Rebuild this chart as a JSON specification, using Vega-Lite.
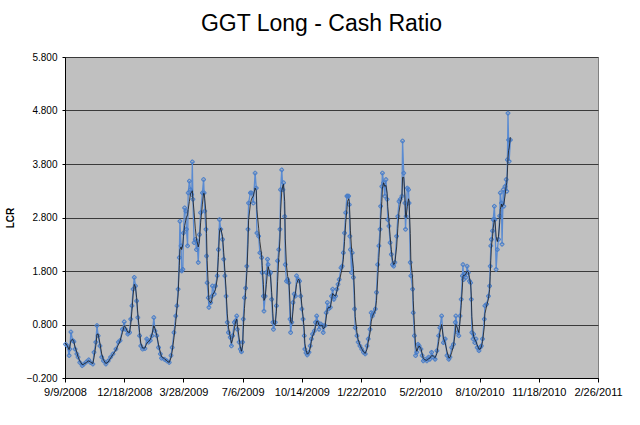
{
  "$schema": "https://vega.github.io/schema/vega-lite/v6.json",
  "autosize": {"type": "none"},
  "width": 533,
  "height": 321,
  "padding": {"left": 65, "top": 57, "right": 42, "bottom": 47},
  "background": "#FFFFFF",
  "config": {
    "view": {"fill": "#C0C0C0", "stroke": "#808080", "strokeWidth": 1},
    "font": "Liberation Sans"
  },
  "title": {
    "text": "GGT Long - Cash Ratio",
    "font": "Liberation Sans",
    "fontSize": 23,
    "fontWeight": "normal",
    "color": "#000000",
    "anchor": "middle",
    "frame": "group",
    "offset": 16,
    "dx": -10
  },
  "data": {
    "values": [
      {"date": "2008-09-10", "lcr": 0.43, "avg": 0.45},
      {"date": "2008-09-13", "lcr": 0.40, "avg": 0.40},
      {"date": "2008-09-16", "lcr": 0.22, "avg": 0.33},
      {"date": "2008-09-17", "lcr": 0.34, "avg": 0.38},
      {"date": "2008-09-19", "lcr": 0.66, "avg": 0.50},
      {"date": "2008-09-22", "lcr": 0.50, "avg": 0.52},
      {"date": "2008-09-24", "lcr": 0.48, "avg": 0.48},
      {"date": "2008-09-26", "lcr": 0.34, "avg": 0.38},
      {"date": "2008-09-29", "lcr": 0.25, "avg": 0.28},
      {"date": "2008-10-01", "lcr": 0.19, "avg": 0.20},
      {"date": "2008-10-04", "lcr": 0.09, "avg": 0.12},
      {"date": "2008-10-08", "lcr": 0.03, "avg": 0.05},
      {"date": "2008-10-11", "lcr": 0.06, "avg": 0.06},
      {"date": "2008-10-15", "lcr": 0.10, "avg": 0.09},
      {"date": "2008-10-19", "lcr": 0.14, "avg": 0.12},
      {"date": "2008-10-22", "lcr": 0.09, "avg": 0.10},
      {"date": "2008-10-26", "lcr": 0.06, "avg": 0.07},
      {"date": "2008-10-28", "lcr": 0.28, "avg": 0.18},
      {"date": "2008-10-31", "lcr": 0.47, "avg": 0.40},
      {"date": "2008-11-02", "lcr": 0.78, "avg": 0.62},
      {"date": "2008-11-04", "lcr": 0.59, "avg": 0.62},
      {"date": "2008-11-07", "lcr": 0.40, "avg": 0.45},
      {"date": "2008-11-10", "lcr": 0.19, "avg": 0.25},
      {"date": "2008-11-13", "lcr": 0.12, "avg": 0.14},
      {"date": "2008-11-17", "lcr": 0.06, "avg": 0.07},
      {"date": "2008-11-21", "lcr": 0.12, "avg": 0.10},
      {"date": "2008-11-25", "lcr": 0.19, "avg": 0.17},
      {"date": "2008-11-29", "lcr": 0.25, "avg": 0.24},
      {"date": "2008-12-04", "lcr": 0.34, "avg": 0.32},
      {"date": "2008-12-08", "lcr": 0.47, "avg": 0.42},
      {"date": "2008-12-11", "lcr": 0.50, "avg": 0.49},
      {"date": "2008-12-15", "lcr": 0.71, "avg": 0.65},
      {"date": "2008-12-18", "lcr": 0.85, "avg": 0.78},
      {"date": "2008-12-20", "lcr": 0.71, "avg": 0.75},
      {"date": "2008-12-24", "lcr": 0.62, "avg": 0.66},
      {"date": "2008-12-27", "lcr": 0.65, "avg": 0.65},
      {"date": "2008-12-29", "lcr": 0.90, "avg": 0.80},
      {"date": "2008-12-31", "lcr": 1.15, "avg": 1.05},
      {"date": "2009-01-02", "lcr": 1.46, "avg": 1.35},
      {"date": "2009-01-04", "lcr": 1.68, "avg": 1.55},
      {"date": "2009-01-06", "lcr": 1.52, "avg": 1.50},
      {"date": "2009-01-08", "lcr": 1.24, "avg": 1.30},
      {"date": "2009-01-10", "lcr": 0.93, "avg": 1.00},
      {"date": "2009-01-13", "lcr": 0.59, "avg": 0.65},
      {"date": "2009-01-15", "lcr": 0.40, "avg": 0.45},
      {"date": "2009-01-18", "lcr": 0.34, "avg": 0.36},
      {"date": "2009-01-22", "lcr": 0.35, "avg": 0.36},
      {"date": "2009-01-25", "lcr": 0.53, "avg": 0.45},
      {"date": "2009-01-28", "lcr": 0.47, "avg": 0.48},
      {"date": "2009-01-31", "lcr": 0.50, "avg": 0.52},
      {"date": "2009-02-03", "lcr": 0.59, "avg": 0.62},
      {"date": "2009-02-06", "lcr": 0.93, "avg": 0.78},
      {"date": "2009-02-08", "lcr": 0.68, "avg": 0.72},
      {"date": "2009-02-11", "lcr": 0.59, "avg": 0.60},
      {"date": "2009-02-14", "lcr": 0.37, "avg": 0.42},
      {"date": "2009-02-17", "lcr": 0.25, "avg": 0.28},
      {"date": "2009-02-19", "lcr": 0.17, "avg": 0.20},
      {"date": "2009-02-24", "lcr": 0.15, "avg": 0.16},
      {"date": "2009-02-28", "lcr": 0.12, "avg": 0.12},
      {"date": "2009-03-04", "lcr": 0.09, "avg": 0.09},
      {"date": "2009-03-07", "lcr": 0.22, "avg": 0.18},
      {"date": "2009-03-09", "lcr": 0.37, "avg": 0.30},
      {"date": "2009-03-12", "lcr": 0.65, "avg": 0.55},
      {"date": "2009-03-15", "lcr": 0.96, "avg": 0.85},
      {"date": "2009-03-17", "lcr": 1.15, "avg": 1.10},
      {"date": "2009-03-19", "lcr": 1.46, "avg": 1.35},
      {"date": "2009-03-21", "lcr": 2.05, "avg": 1.90},
      {"date": "2009-03-22", "lcr": 2.73, "avg": 2.20},
      {"date": "2009-03-24", "lcr": 2.27, "avg": 2.25},
      {"date": "2009-03-25", "lcr": 1.80, "avg": 2.20},
      {"date": "2009-03-27", "lcr": 1.83, "avg": 2.30},
      {"date": "2009-03-28", "lcr": 2.51, "avg": 2.45},
      {"date": "2009-03-30", "lcr": 2.98, "avg": 2.65},
      {"date": "2009-04-01", "lcr": 2.92, "avg": 2.75},
      {"date": "2009-04-02", "lcr": 2.58, "avg": 2.80},
      {"date": "2009-04-04", "lcr": 2.27, "avg": 2.85},
      {"date": "2009-04-05", "lcr": 3.26, "avg": 2.95},
      {"date": "2009-04-07", "lcr": 3.48, "avg": 3.10},
      {"date": "2009-04-09", "lcr": 3.32, "avg": 3.25},
      {"date": "2009-04-11", "lcr": 3.23, "avg": 3.28},
      {"date": "2009-04-12", "lcr": 3.84, "avg": 3.30},
      {"date": "2009-04-13", "lcr": 3.14, "avg": 3.15},
      {"date": "2009-04-15", "lcr": 2.33, "avg": 2.90},
      {"date": "2009-04-17", "lcr": 2.39, "avg": 2.60},
      {"date": "2009-04-19", "lcr": 2.20, "avg": 2.40},
      {"date": "2009-04-20", "lcr": 2.36, "avg": 2.35},
      {"date": "2009-04-22", "lcr": 1.96, "avg": 2.25},
      {"date": "2009-04-24", "lcr": 2.48, "avg": 2.35},
      {"date": "2009-04-26", "lcr": 2.89, "avg": 2.70},
      {"date": "2009-04-29", "lcr": 3.26, "avg": 3.05},
      {"date": "2009-05-01", "lcr": 3.51, "avg": 3.25},
      {"date": "2009-05-02", "lcr": 3.26, "avg": 3.25},
      {"date": "2009-05-03", "lcr": 2.92, "avg": 3.15},
      {"date": "2009-05-05", "lcr": 2.58, "avg": 2.90},
      {"date": "2009-05-06", "lcr": 2.08, "avg": 2.50},
      {"date": "2009-05-07", "lcr": 1.58, "avg": 2.00},
      {"date": "2009-05-09", "lcr": 1.30, "avg": 1.50},
      {"date": "2009-05-10", "lcr": 1.12, "avg": 1.25},
      {"date": "2009-05-13", "lcr": 1.21, "avg": 1.20},
      {"date": "2009-05-15", "lcr": 1.33, "avg": 1.25},
      {"date": "2009-05-16", "lcr": 1.52, "avg": 1.35},
      {"date": "2009-05-19", "lcr": 1.37, "avg": 1.40},
      {"date": "2009-05-21", "lcr": 1.52, "avg": 1.45},
      {"date": "2009-05-24", "lcr": 1.71, "avg": 1.65},
      {"date": "2009-05-26", "lcr": 2.20, "avg": 2.05},
      {"date": "2009-05-28", "lcr": 2.76, "avg": 2.55},
      {"date": "2009-05-30", "lcr": 2.58, "avg": 2.60},
      {"date": "2009-06-02", "lcr": 2.39, "avg": 2.45},
      {"date": "2009-06-04", "lcr": 2.02, "avg": 2.15},
      {"date": "2009-06-06", "lcr": 1.71, "avg": 1.80},
      {"date": "2009-06-08", "lcr": 1.33, "avg": 1.45},
      {"date": "2009-06-10", "lcr": 0.84, "avg": 1.00},
      {"date": "2009-06-12", "lcr": 0.65, "avg": 0.75},
      {"date": "2009-06-15", "lcr": 0.56, "avg": 0.58},
      {"date": "2009-06-17", "lcr": 0.40, "avg": 0.45},
      {"date": "2009-06-19", "lcr": 0.59, "avg": 0.52},
      {"date": "2009-06-22", "lcr": 0.84, "avg": 0.72},
      {"date": "2009-06-24", "lcr": 0.87, "avg": 0.85},
      {"date": "2009-06-26", "lcr": 0.96, "avg": 0.90},
      {"date": "2009-06-27", "lcr": 0.71, "avg": 0.80},
      {"date": "2009-06-30", "lcr": 0.47, "avg": 0.55},
      {"date": "2009-07-02", "lcr": 0.34, "avg": 0.38},
      {"date": "2009-07-04", "lcr": 0.29, "avg": 0.30},
      {"date": "2009-07-06", "lcr": 0.47, "avg": 0.40},
      {"date": "2009-07-07", "lcr": 0.90, "avg": 0.70},
      {"date": "2009-07-09", "lcr": 1.30, "avg": 1.10},
      {"date": "2009-07-11", "lcr": 1.48, "avg": 1.40},
      {"date": "2009-07-13", "lcr": 1.89, "avg": 1.75},
      {"date": "2009-07-15", "lcr": 2.58, "avg": 2.30},
      {"date": "2009-07-16", "lcr": 3.07, "avg": 2.75},
      {"date": "2009-07-19", "lcr": 3.26, "avg": 3.05},
      {"date": "2009-07-21", "lcr": 3.26, "avg": 3.15},
      {"date": "2009-07-24", "lcr": 3.07, "avg": 3.20},
      {"date": "2009-07-27", "lcr": 3.63, "avg": 3.35},
      {"date": "2009-07-29", "lcr": 3.35, "avg": 3.30},
      {"date": "2009-07-30", "lcr": 2.51, "avg": 2.95},
      {"date": "2009-08-02", "lcr": 2.45, "avg": 2.60},
      {"date": "2009-08-04", "lcr": 2.14, "avg": 2.35},
      {"date": "2009-08-07", "lcr": 2.05, "avg": 2.10},
      {"date": "2009-08-08", "lcr": 1.77, "avg": 1.90},
      {"date": "2009-08-10", "lcr": 1.33, "avg": 1.55},
      {"date": "2009-08-11", "lcr": 1.05, "avg": 1.25},
      {"date": "2009-08-13", "lcr": 1.33, "avg": 1.30},
      {"date": "2009-08-15", "lcr": 1.77, "avg": 1.55},
      {"date": "2009-08-17", "lcr": 2.02, "avg": 1.80},
      {"date": "2009-08-18", "lcr": 1.92, "avg": 1.88},
      {"date": "2009-08-20", "lcr": 1.74, "avg": 1.80},
      {"date": "2009-08-22", "lcr": 1.77, "avg": 1.70},
      {"date": "2009-08-24", "lcr": 1.27, "avg": 1.40},
      {"date": "2009-08-26", "lcr": 0.84, "avg": 1.00},
      {"date": "2009-08-27", "lcr": 0.71, "avg": 0.82},
      {"date": "2009-08-30", "lcr": 0.84, "avg": 0.80},
      {"date": "2009-09-01", "lcr": 1.15, "avg": 1.05},
      {"date": "2009-09-03", "lcr": 1.99, "avg": 1.60},
      {"date": "2009-09-05", "lcr": 2.20, "avg": 2.05},
      {"date": "2009-09-07", "lcr": 2.58, "avg": 2.40},
      {"date": "2009-09-08", "lcr": 3.32, "avg": 2.90},
      {"date": "2009-09-10", "lcr": 3.69, "avg": 3.30},
      {"date": "2009-09-12", "lcr": 3.32, "avg": 3.40},
      {"date": "2009-09-13", "lcr": 3.45, "avg": 3.42},
      {"date": "2009-09-15", "lcr": 2.82, "avg": 3.10},
      {"date": "2009-09-16", "lcr": 1.92, "avg": 2.40},
      {"date": "2009-09-18", "lcr": 1.61, "avg": 1.90},
      {"date": "2009-09-20", "lcr": 1.64, "avg": 1.70},
      {"date": "2009-09-22", "lcr": 1.58, "avg": 1.62},
      {"date": "2009-09-24", "lcr": 0.90, "avg": 1.20},
      {"date": "2009-09-25", "lcr": 0.65, "avg": 0.85},
      {"date": "2009-09-27", "lcr": 0.84, "avg": 0.82},
      {"date": "2009-09-29", "lcr": 1.21, "avg": 1.05},
      {"date": "2009-10-01", "lcr": 1.37, "avg": 1.30},
      {"date": "2009-10-03", "lcr": 1.33, "avg": 1.38},
      {"date": "2009-10-05", "lcr": 1.71, "avg": 1.55},
      {"date": "2009-10-08", "lcr": 1.64, "avg": 1.65},
      {"date": "2009-10-10", "lcr": 1.61, "avg": 1.62},
      {"date": "2009-10-12", "lcr": 1.33, "avg": 1.40},
      {"date": "2009-10-14", "lcr": 1.09, "avg": 1.15},
      {"date": "2009-10-16", "lcr": 0.90, "avg": 0.95},
      {"date": "2009-10-18", "lcr": 0.59, "avg": 0.70},
      {"date": "2009-10-19", "lcr": 0.34, "avg": 0.45},
      {"date": "2009-10-21", "lcr": 0.27, "avg": 0.32},
      {"date": "2009-10-23", "lcr": 0.23, "avg": 0.25},
      {"date": "2009-10-26", "lcr": 0.28, "avg": 0.27},
      {"date": "2009-10-28", "lcr": 0.40, "avg": 0.36},
      {"date": "2009-10-30", "lcr": 0.53, "avg": 0.48},
      {"date": "2009-11-01", "lcr": 0.62, "avg": 0.58},
      {"date": "2009-11-04", "lcr": 0.68, "avg": 0.66},
      {"date": "2009-11-06", "lcr": 0.84, "avg": 0.76},
      {"date": "2009-11-08", "lcr": 0.96, "avg": 0.86},
      {"date": "2009-11-10", "lcr": 0.84, "avg": 0.86},
      {"date": "2009-11-12", "lcr": 0.71, "avg": 0.78},
      {"date": "2009-11-15", "lcr": 0.81, "avg": 0.78},
      {"date": "2009-11-18", "lcr": 0.78, "avg": 0.78},
      {"date": "2009-11-19", "lcr": 0.65, "avg": 0.72},
      {"date": "2009-11-22", "lcr": 0.78, "avg": 0.75},
      {"date": "2009-11-24", "lcr": 1.02, "avg": 0.92},
      {"date": "2009-11-26", "lcr": 1.21, "avg": 1.08},
      {"date": "2009-11-28", "lcr": 1.09, "avg": 1.12},
      {"date": "2009-12-01", "lcr": 1.12, "avg": 1.12},
      {"date": "2009-12-03", "lcr": 1.33, "avg": 1.25},
      {"date": "2009-12-05", "lcr": 1.46, "avg": 1.38},
      {"date": "2009-12-07", "lcr": 1.27, "avg": 1.35},
      {"date": "2009-12-10", "lcr": 1.33, "avg": 1.33},
      {"date": "2009-12-12", "lcr": 1.46, "avg": 1.42},
      {"date": "2009-12-14", "lcr": 1.55, "avg": 1.52},
      {"date": "2009-12-16", "lcr": 1.64, "avg": 1.60},
      {"date": "2009-12-19", "lcr": 1.86, "avg": 1.75},
      {"date": "2009-12-21", "lcr": 1.89, "avg": 1.85},
      {"date": "2009-12-23", "lcr": 2.14, "avg": 2.02},
      {"date": "2009-12-25", "lcr": 2.51, "avg": 2.35},
      {"date": "2009-12-27", "lcr": 2.89, "avg": 2.70},
      {"date": "2009-12-29", "lcr": 3.20, "avg": 2.95},
      {"date": "2009-12-30", "lcr": 3.20, "avg": 3.10},
      {"date": "2010-01-01", "lcr": 3.20, "avg": 3.15},
      {"date": "2010-01-02", "lcr": 3.04, "avg": 3.10},
      {"date": "2010-01-03", "lcr": 2.45, "avg": 2.85},
      {"date": "2010-01-04", "lcr": 2.20, "avg": 2.55},
      {"date": "2010-01-06", "lcr": 1.77, "avg": 2.20},
      {"date": "2010-01-07", "lcr": 2.14, "avg": 2.05},
      {"date": "2010-01-09", "lcr": 1.68, "avg": 1.85},
      {"date": "2010-01-11", "lcr": 1.09, "avg": 1.35},
      {"date": "2010-01-12", "lcr": 0.74, "avg": 0.95},
      {"date": "2010-01-15", "lcr": 0.59, "avg": 0.65},
      {"date": "2010-01-17", "lcr": 0.47, "avg": 0.52},
      {"date": "2010-01-20", "lcr": 0.40, "avg": 0.42},
      {"date": "2010-01-23", "lcr": 0.34, "avg": 0.35},
      {"date": "2010-01-26", "lcr": 0.28, "avg": 0.29},
      {"date": "2010-01-29", "lcr": 0.25, "avg": 0.26},
      {"date": "2010-02-01", "lcr": 0.40, "avg": 0.34},
      {"date": "2010-02-03", "lcr": 0.53, "avg": 0.47},
      {"date": "2010-02-06", "lcr": 0.71, "avg": 0.64},
      {"date": "2010-02-08", "lcr": 1.02, "avg": 0.85},
      {"date": "2010-02-10", "lcr": 0.96, "avg": 0.95},
      {"date": "2010-02-12", "lcr": 1.02, "avg": 1.00},
      {"date": "2010-02-15", "lcr": 1.09, "avg": 1.06},
      {"date": "2010-02-17", "lcr": 1.40, "avg": 1.25},
      {"date": "2010-02-19", "lcr": 1.92, "avg": 1.65},
      {"date": "2010-02-21", "lcr": 2.27, "avg": 2.05},
      {"date": "2010-02-23", "lcr": 2.58, "avg": 2.40},
      {"date": "2010-02-24", "lcr": 3.01, "avg": 2.75},
      {"date": "2010-02-26", "lcr": 3.38, "avg": 3.10},
      {"date": "2010-02-27", "lcr": 3.63, "avg": 3.35},
      {"date": "2010-03-01", "lcr": 3.45, "avg": 3.45},
      {"date": "2010-03-03", "lcr": 3.20, "avg": 3.38},
      {"date": "2010-03-05", "lcr": 3.51, "avg": 3.40},
      {"date": "2010-03-07", "lcr": 3.14, "avg": 3.25},
      {"date": "2010-03-08", "lcr": 2.76, "avg": 3.00},
      {"date": "2010-03-10", "lcr": 2.64, "avg": 2.75},
      {"date": "2010-03-12", "lcr": 2.33, "avg": 2.45},
      {"date": "2010-03-14", "lcr": 2.11, "avg": 2.20},
      {"date": "2010-03-16", "lcr": 1.92, "avg": 2.00},
      {"date": "2010-03-18", "lcr": 1.89, "avg": 1.92},
      {"date": "2010-03-20", "lcr": 1.96, "avg": 1.95},
      {"date": "2010-03-23", "lcr": 2.45, "avg": 2.25},
      {"date": "2010-03-25", "lcr": 2.82, "avg": 2.60},
      {"date": "2010-03-27", "lcr": 3.10, "avg": 2.90},
      {"date": "2010-03-29", "lcr": 3.14, "avg": 3.05},
      {"date": "2010-04-01", "lcr": 3.20, "avg": 3.20},
      {"date": "2010-04-02", "lcr": 4.23, "avg": 3.55},
      {"date": "2010-04-04", "lcr": 3.63, "avg": 3.55},
      {"date": "2010-04-06", "lcr": 3.07, "avg": 3.20},
      {"date": "2010-04-07", "lcr": 2.58, "avg": 2.85},
      {"date": "2010-04-08", "lcr": 2.82, "avg": 2.80},
      {"date": "2010-04-10", "lcr": 3.35, "avg": 3.00},
      {"date": "2010-04-12", "lcr": 3.32, "avg": 3.15},
      {"date": "2010-04-13", "lcr": 3.07, "avg": 3.10},
      {"date": "2010-04-15", "lcr": 1.96, "avg": 2.50},
      {"date": "2010-04-16", "lcr": 1.71, "avg": 2.00},
      {"date": "2010-04-19", "lcr": 1.46, "avg": 1.65},
      {"date": "2010-04-20", "lcr": 1.02, "avg": 1.25},
      {"date": "2010-04-22", "lcr": 0.59, "avg": 0.80},
      {"date": "2010-04-24", "lcr": 0.22, "avg": 0.40},
      {"date": "2010-04-26", "lcr": 0.28, "avg": 0.30},
      {"date": "2010-04-28", "lcr": 0.43, "avg": 0.36},
      {"date": "2010-04-30", "lcr": 0.40, "avg": 0.40},
      {"date": "2010-05-03", "lcr": 0.34, "avg": 0.35},
      {"date": "2010-05-05", "lcr": 0.22, "avg": 0.26},
      {"date": "2010-05-07", "lcr": 0.12, "avg": 0.17},
      {"date": "2010-05-10", "lcr": 0.15, "avg": 0.14},
      {"date": "2010-05-13", "lcr": 0.12, "avg": 0.13},
      {"date": "2010-05-16", "lcr": 0.19, "avg": 0.16},
      {"date": "2010-05-18", "lcr": 0.15, "avg": 0.17},
      {"date": "2010-05-21", "lcr": 0.28, "avg": 0.22},
      {"date": "2010-05-24", "lcr": 0.19, "avg": 0.21},
      {"date": "2010-05-27", "lcr": 0.15, "avg": 0.18},
      {"date": "2010-05-30", "lcr": 0.31, "avg": 0.26},
      {"date": "2010-06-02", "lcr": 0.59, "avg": 0.48},
      {"date": "2010-06-04", "lcr": 0.74, "avg": 0.65},
      {"date": "2010-06-07", "lcr": 0.96, "avg": 0.80},
      {"date": "2010-06-10", "lcr": 0.46, "avg": 0.55},
      {"date": "2010-06-13", "lcr": 0.53, "avg": 0.45},
      {"date": "2010-06-16", "lcr": 0.22, "avg": 0.30},
      {"date": "2010-06-19", "lcr": 0.15, "avg": 0.18},
      {"date": "2010-06-21", "lcr": 0.19, "avg": 0.18},
      {"date": "2010-06-24", "lcr": 0.37, "avg": 0.28},
      {"date": "2010-06-27", "lcr": 0.43, "avg": 0.40},
      {"date": "2010-06-30", "lcr": 0.84, "avg": 0.65},
      {"date": "2010-07-01", "lcr": 0.96, "avg": 0.80},
      {"date": "2010-07-04", "lcr": 0.65, "avg": 0.72},
      {"date": "2010-07-06", "lcr": 0.59, "avg": 0.65},
      {"date": "2010-07-08", "lcr": 0.96, "avg": 0.85},
      {"date": "2010-07-10", "lcr": 1.27, "avg": 1.15},
      {"date": "2010-07-12", "lcr": 1.71, "avg": 1.50},
      {"date": "2010-07-13", "lcr": 1.92, "avg": 1.70},
      {"date": "2010-07-14", "lcr": 1.64, "avg": 1.72},
      {"date": "2010-07-16", "lcr": 1.74, "avg": 1.72},
      {"date": "2010-07-18", "lcr": 1.68, "avg": 1.75},
      {"date": "2010-07-20", "lcr": 1.89, "avg": 1.80},
      {"date": "2010-07-22", "lcr": 1.77, "avg": 1.78},
      {"date": "2010-07-24", "lcr": 1.61, "avg": 1.68},
      {"date": "2010-07-26", "lcr": 1.58, "avg": 1.55},
      {"date": "2010-07-27", "lcr": 1.27, "avg": 1.35},
      {"date": "2010-07-28", "lcr": 0.65, "avg": 0.95},
      {"date": "2010-07-30", "lcr": 0.53, "avg": 0.65},
      {"date": "2010-07-31", "lcr": 0.62, "avg": 0.58},
      {"date": "2010-08-02", "lcr": 0.46, "avg": 0.52},
      {"date": "2010-08-04", "lcr": 0.53, "avg": 0.48},
      {"date": "2010-08-06", "lcr": 0.37, "avg": 0.42},
      {"date": "2010-08-09", "lcr": 0.31, "avg": 0.34},
      {"date": "2010-08-11", "lcr": 0.37, "avg": 0.34},
      {"date": "2010-08-13", "lcr": 0.40, "avg": 0.38},
      {"date": "2010-08-15", "lcr": 0.53, "avg": 0.48},
      {"date": "2010-08-18", "lcr": 0.90, "avg": 0.75},
      {"date": "2010-08-19", "lcr": 1.15, "avg": 1.00},
      {"date": "2010-08-22", "lcr": 1.18, "avg": 1.15},
      {"date": "2010-08-25", "lcr": 1.33, "avg": 1.28},
      {"date": "2010-08-27", "lcr": 1.52, "avg": 1.45},
      {"date": "2010-08-28", "lcr": 1.89, "avg": 1.70},
      {"date": "2010-08-29", "lcr": 2.27, "avg": 2.00},
      {"date": "2010-08-30", "lcr": 2.39, "avg": 2.25},
      {"date": "2010-09-01", "lcr": 2.55, "avg": 2.45},
      {"date": "2010-09-02", "lcr": 2.76, "avg": 2.60},
      {"date": "2010-09-04", "lcr": 3.01, "avg": 2.75},
      {"date": "2010-09-05", "lcr": 2.76, "avg": 2.75},
      {"date": "2010-09-07", "lcr": 1.83, "avg": 2.45},
      {"date": "2010-09-09", "lcr": 2.20, "avg": 2.35},
      {"date": "2010-09-11", "lcr": 2.39, "avg": 2.45},
      {"date": "2010-09-13", "lcr": 2.83, "avg": 2.70},
      {"date": "2010-09-14", "lcr": 3.26, "avg": 2.95},
      {"date": "2010-09-16", "lcr": 3.07, "avg": 3.05},
      {"date": "2010-09-17", "lcr": 2.30, "avg": 3.00},
      {"date": "2010-09-19", "lcr": 3.32, "avg": 3.05},
      {"date": "2010-09-20", "lcr": 3.01, "avg": 3.05},
      {"date": "2010-09-22", "lcr": 3.38, "avg": 3.20},
      {"date": "2010-09-24", "lcr": 3.51, "avg": 3.40},
      {"date": "2010-09-25", "lcr": 3.29, "avg": 3.45},
      {"date": "2010-09-26", "lcr": 3.88, "avg": 3.65},
      {"date": "2010-09-27", "lcr": 4.75, "avg": 3.90},
      {"date": "2010-09-28", "lcr": 4.25, "avg": 4.05},
      {"date": "2010-09-29", "lcr": 3.85, "avg": 4.10},
      {"date": "2010-10-01", "lcr": 4.25, "avg": 4.30}
    ]
  },
  "encoding": {
    "x": {
      "field": "date",
      "type": "temporal",
      "scale": {
        "type": "utc",
        "domain": [
          {"year": 2008, "month": 9, "date": 9, "utc": true},
          {"year": 2011, "month": 2, "date": 26, "utc": true}
        ]
      },
      "axis": {
        "title": null,
        "grid": false,
        "values": [
          {"year": 2008, "month": 9, "date": 9, "utc": true},
          {"year": 2008, "month": 12, "date": 18, "utc": true},
          {"year": 2009, "month": 3, "date": 28, "utc": true},
          {"year": 2009, "month": 7, "date": 6, "utc": true},
          {"year": 2009, "month": 10, "date": 14, "utc": true},
          {"year": 2010, "month": 1, "date": 22, "utc": true},
          {"year": 2010, "month": 5, "date": 2, "utc": true},
          {"year": 2010, "month": 8, "date": 10, "utc": true},
          {"year": 2010, "month": 11, "date": 18, "utc": true},
          {"year": 2011, "month": 2, "date": 26, "utc": true}
        ],
        "labelExpr": "utcFormat(datum.value, '%-m/%-d/%Y')",
        "labelFont": "Liberation Sans",
        "labelFontSize": 11,
        "labelColor": "#000000",
        "labelPadding": 4,
        "labelFlush": false,
        "labelOverlap": false,
        "domainColor": "#000000",
        "tickColor": "#000000",
        "tickSize": 4
      }
    }
  },
  "layer": [
    {
      "mark": {
        "type": "line",
        "color": "#5A8BD2",
        "strokeWidth": 1.3,
        "point": {"filled": false, "shape": "cross", "size": 14, "color": "#4A7EC8", "strokeWidth": 1}
      },
      "encoding": {
        "y": {
          "field": "lcr",
          "type": "quantitative",
          "scale": {"domain": [-0.2, 5.8], "nice": false, "zero": false},
          "axis": {
            "title": "LCR",
            "titleFont": "Liberation Sans",
            "titleFontSize": 10,
            "titleFontWeight": "bold",
            "titleColor": "#000000",
            "titlePadding": 11,
            "values": [-0.2, 0.8, 1.8, 2.8, 3.8, 4.8, 5.8],
            "format": ".3f",
            "labelFont": "Liberation Sans",
            "labelFontSize": 10,
            "labelColor": "#000000",
            "labelPadding": 5,
            "grid": true,
            "gridColor": "#3A3A3A",
            "gridWidth": 1,
            "domainColor": "#000000",
            "tickColor": "#000000",
            "tickSize": 3
          }
        }
      }
    },
    {
      "mark": {"type": "line", "color": "#1A1A1A", "strokeWidth": 0.8},
      "encoding": {"y": {"field": "avg", "type": "quantitative"}}
    }
  ]
}
